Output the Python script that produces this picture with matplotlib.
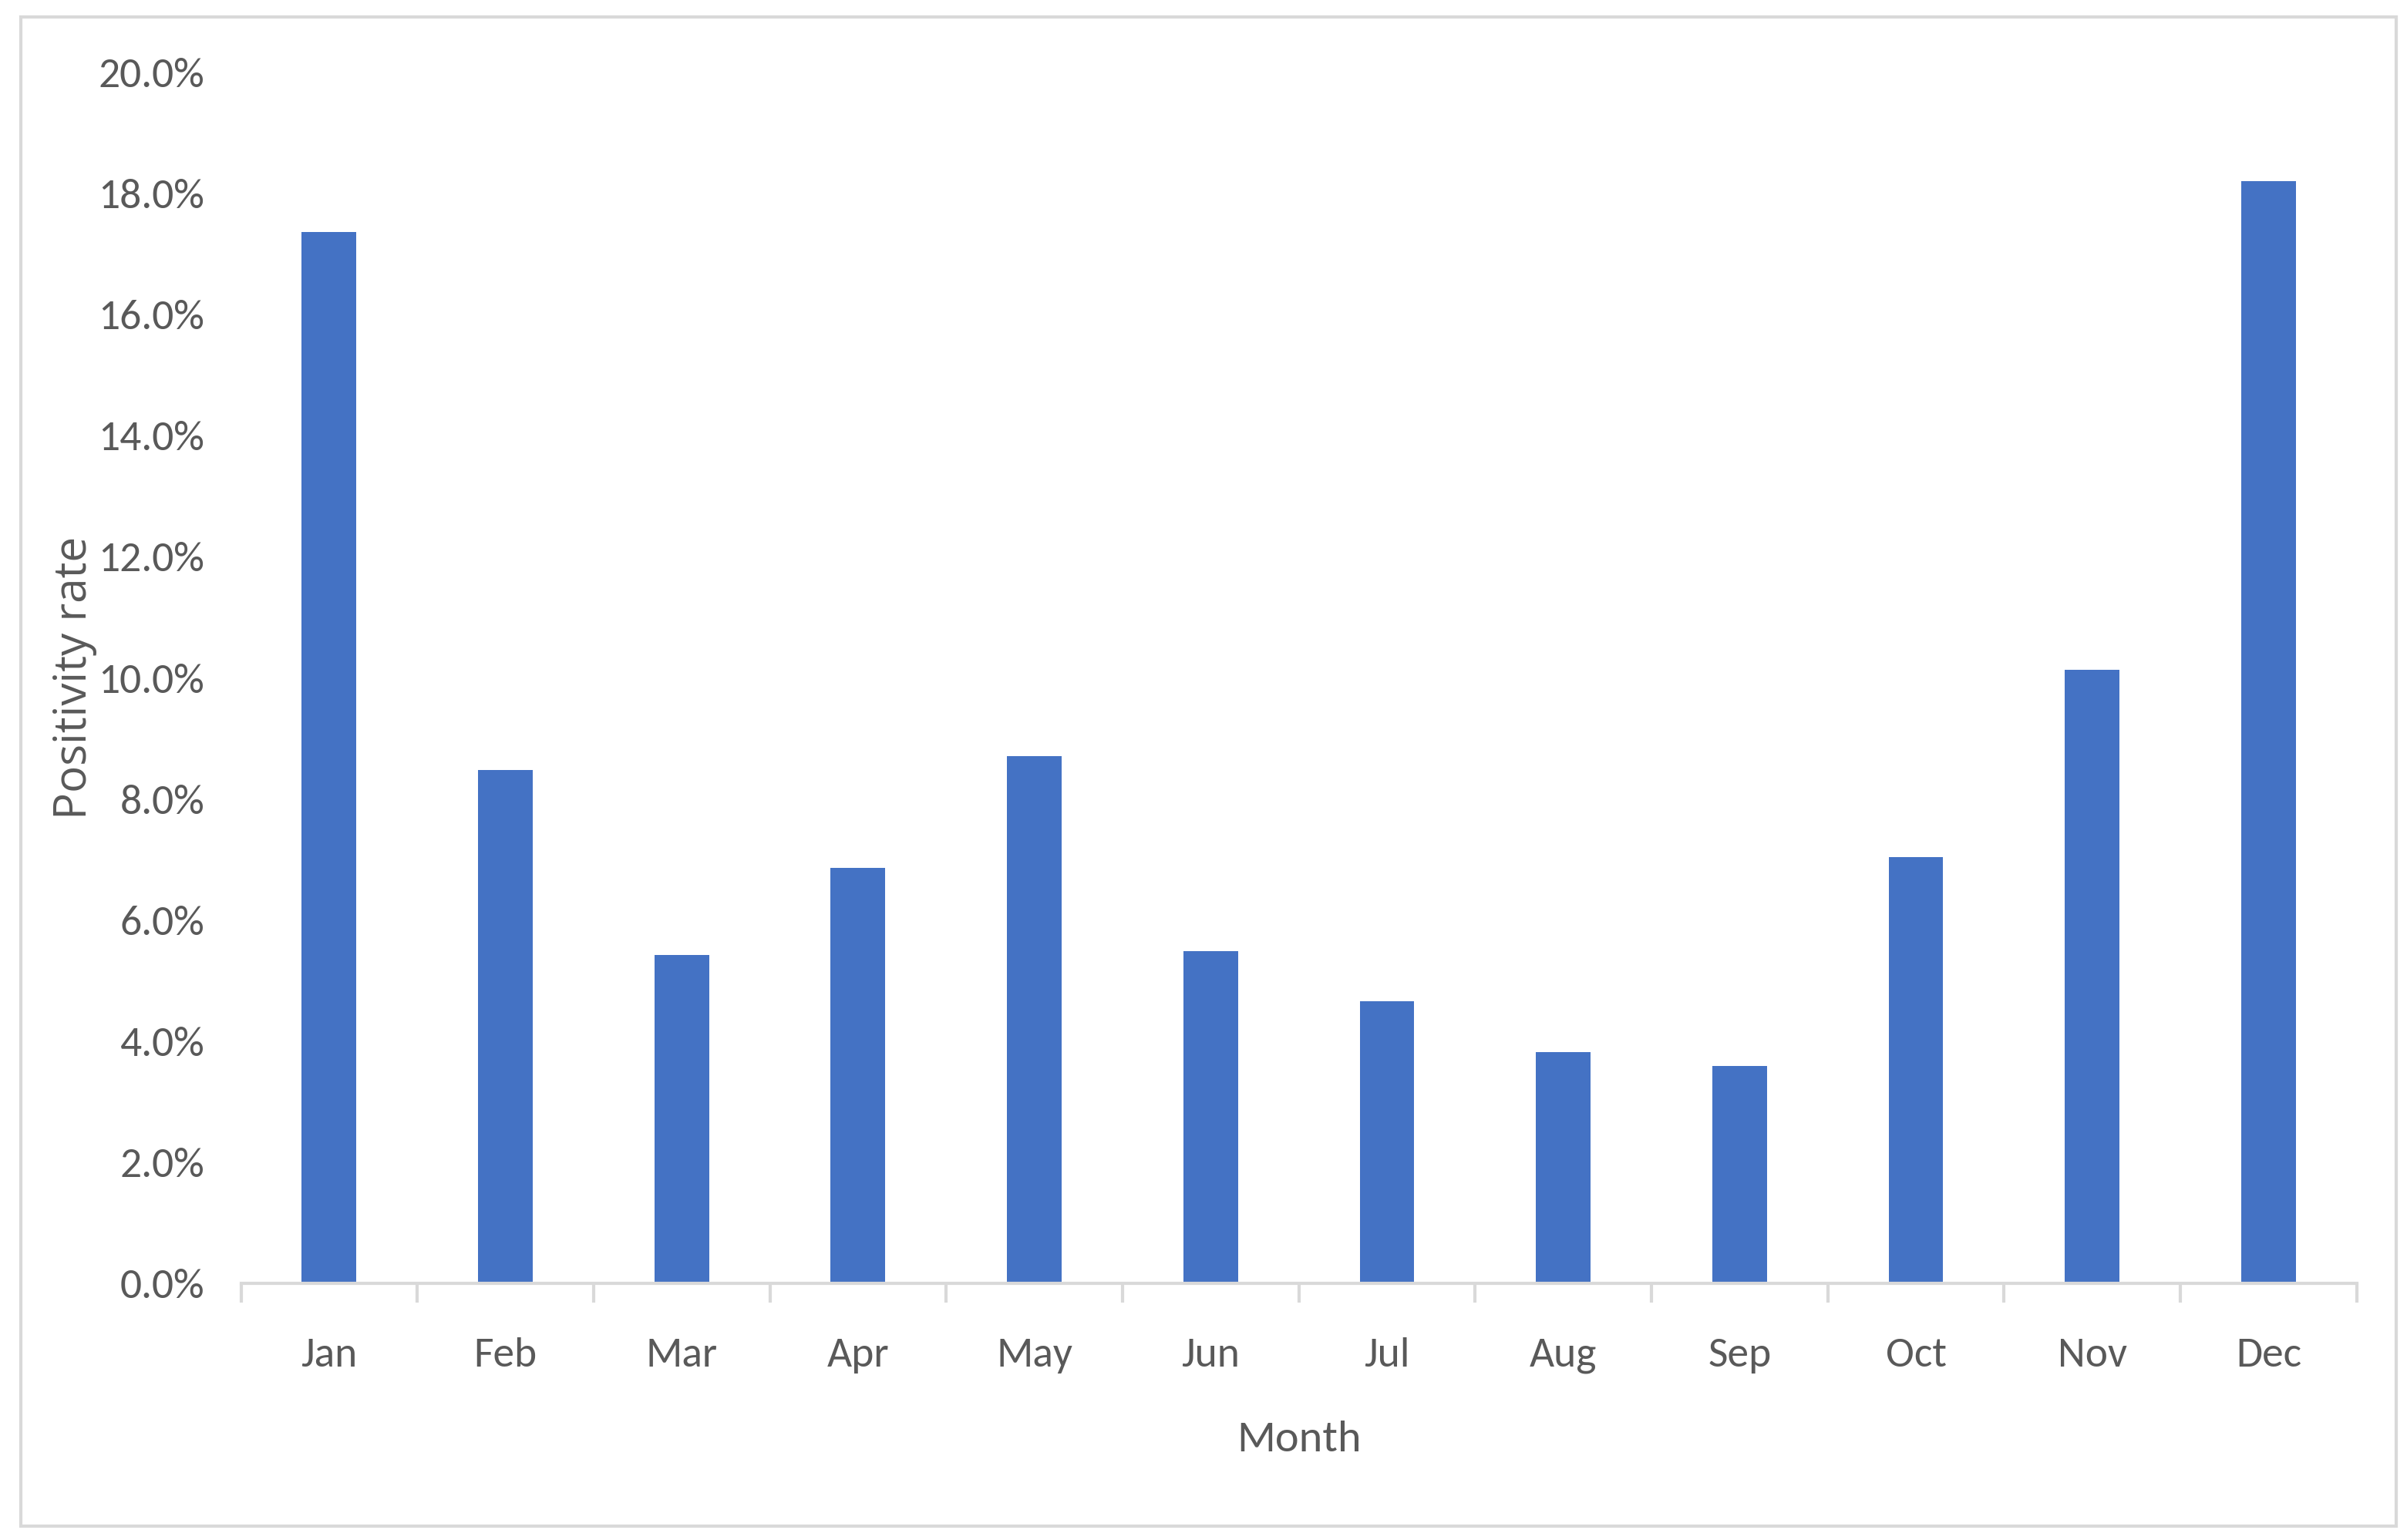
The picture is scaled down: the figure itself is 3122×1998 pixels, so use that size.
import matplotlib
matplotlib.use("Agg")
import matplotlib.pyplot as plt
from matplotlib.ticker import FixedLocator, FuncFormatter
from matplotlib.patches import Rectangle
from matplotlib import font_manager

months = ["Jan", "Feb", "Mar", "Apr", "May", "Jun", "Jul", "Aug", "Sep", "Oct", "Nov", "Dec"]
positivity = [17.37, 8.48, 5.42, 6.86, 8.71, 5.49, 4.66, 3.82, 3.59, 7.04, 10.13, 18.20]
y_ticks = [0, 2, 4, 6, 8, 10, 12, 14, 16, 18, 20]

available = {f.name for f in font_manager.fontManager.ttflist}
narrow = next((f for f in ["Carlito", "Roboto Condensed", "Liberation Sans Narrow", "Arimo"]
               if f in available), "Liberation Sans")
label_font = next((f for f in ["Selawik", "Open Sans"] if f in available), "DejaVu Sans")

text_color = "#595959"
bar_color = "#4472C4"
line_color = "#D9D9D9"

fig = plt.figure(figsize=(3122 / 200, 1998 / 200), dpi=200)
fig.patch.set_facecolor("white")

# outer chart border
fig.patches.append(Rectangle((0.0085, 0.009), 0.987, 0.98, transform=fig.transFigure,
                             fill=False, edgecolor=line_color, linewidth=1.5))

ax = fig.add_axes([0.1001, 0.1665, 0.879, 0.7865])
x = list(range(len(months)))
ax.bar(x, positivity, width=0.31, color=bar_color, zorder=2)

ax.set_xlim(-0.5, len(months) - 0.5)
ax.set_ylim(0, 20)

for s in ["top", "right", "left"]:
    ax.spines[s].set_visible(False)
ax.spines["bottom"].set_color(line_color)
ax.spines["bottom"].set_linewidth(1.5)

tick_size = 20 if narrow == "Carlito" else 19

ax.xaxis.set_major_locator(FixedLocator(x))
ax.set_xticklabels(months)
ax.xaxis.set_minor_locator(FixedLocator([i - 0.5 for i in range(len(months) + 1)]))
ax.tick_params(axis="x", which="major", length=0, pad=25, labelsize=tick_size, labelcolor=text_color)
ax.tick_params(axis="x", which="minor", length=9, width=1.5, color=line_color)

ax.yaxis.set_major_locator(FixedLocator(y_ticks))
ax.yaxis.set_major_formatter(FuncFormatter(lambda v, p: f"{v:.1f}%"))
ax.tick_params(axis="y", length=0, pad=17, labelsize=tick_size, labelcolor=text_color)

for lbl in ax.get_xticklabels() + ax.get_yticklabels():
    lbl.set_fontfamily(narrow)

ax.set_xlabel("Month", fontsize=21, color=text_color, family=narrow, labelpad=22)
ax.set_ylabel("Positivity rate", fontsize=21, color=text_color, family=label_font)
ax.yaxis.set_label_coords(-0.068, 0.5)

fig.savefig("out.png", dpi=200, facecolor="white")
